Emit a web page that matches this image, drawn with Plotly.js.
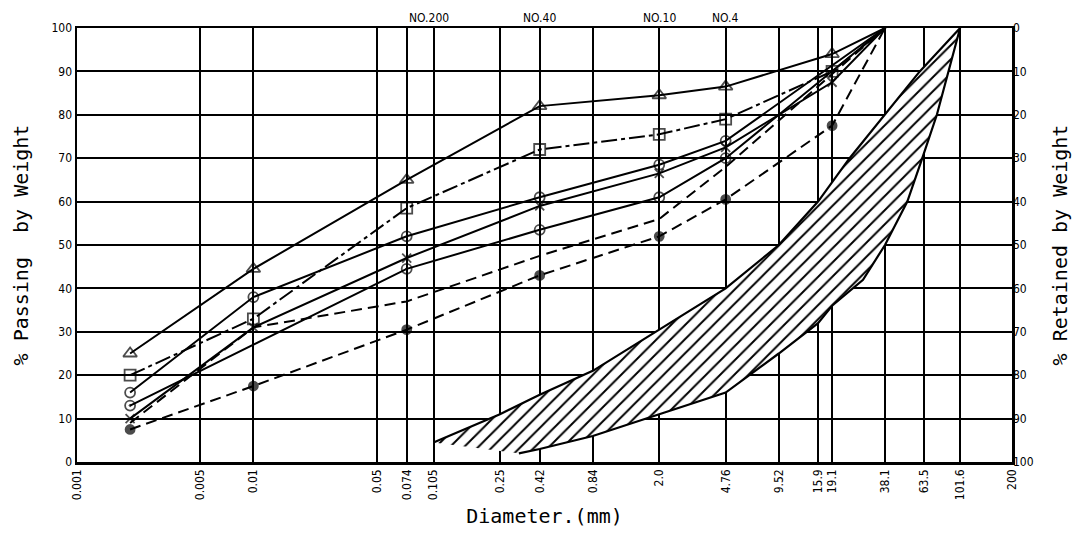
<!DOCTYPE html>
<html>
<head>
<meta charset="utf-8">
<script src="https://cdn.plot.ly/plotly-3.0.1.min.js"></script>
<style>
  html, body { margin: 0; padding: 0; background: #ffffff; }
  #chart { width: 1079px; height: 545px; }
</style>
</head>
<body>
<div id="chart"></div>
<script>
// ---- Data ----
const xTickVals  = [0.001, 0.005, 0.01, 0.05, 0.074, 0.105, 0.25, 0.42, 0.84, 2.0, 4.76, 9.52, 15.9, 19.1, 38.1, 63.5, 101.6, 200];
const xTickText  = ["0.001", "0.005", "0.01", "0.05", "0.074", "0.105", "0.25", "0.42", "0.84", "2.0", "4.76", "9.52", "15.9", "19.1", "38.1", "63.5", "101.6", "200"];
const passTicks  = [0, 10, 20, 30, 40, 50, 60, 70, 80, 90, 100];
const retainTicks = [0, 10, 20, 30, 40, 50, 60, 70, 80, 90, 100];
const sieveNames = ["NO.200", "NO.40", "NO.10", "NO.4"];
const sieveSizes = [0.074, 0.42, 2.0, 4.76];

// sample curves (diameter mm, % passing)
const triD  = [0.002, 0.01, 0.074, 0.42, 2.0, 4.76, 19.1, 38.1];
const triP  = [25, 44.5, 65, 82, 84.5, 86.5, 94, 100];
const sqD   = [0.002, 0.01, 0.074, 0.42, 2.0, 4.76, 19.1, 38.1];
const sqP   = [20, 33, 58.5, 72, 75.5, 79, 90, 100];
const circD = [0.002, 0.01, 0.074, 0.42, 2.0, 4.76, 38.1];
const circP = [16, 38, 52, 61, 68.5, 74, 100];
const crossD = [0.002, 0.01, 0.074, 0.42, 2.0, 4.76, 19.1, 38.1];
const crossP = [10, 31, 47, 59, 66.5, 72.5, 87.5, 100];
const ringD = [0.002, 0.074, 0.42, 2.0, 4.76, 38.1];
const ringP = [13, 44.5, 53.5, 61, 70, 100];
const dashD = [0.002, 0.01, 0.074, 0.42, 2.0, 4.76, 38.1];
const dashP = [9, 31, 37, 47.5, 56, 68, 100];
const dotD  = [0.002, 0.01, 0.074, 0.42, 2.0, 4.76, 19.1, 38.1];
const dotP  = [7.5, 17.5, 30.5, 43, 52, 60.5, 77.5, 100];

// hatched band (grading envelope)
const bandUpperD = [0.105, 0.25, 0.42, 0.84, 2.0, 4.76, 9.52, 15.9, 24, 38.1, 60, 101.6];
const bandUpperP = [4.5, 11, 15.5, 21, 30.5, 40, 50, 60, 70, 80, 90, 100];
const bandLowerD = [0.32, 0.42, 0.84, 2.0, 4.76, 9.52, 15.9, 19.1, 28.6, 38.1, 51, 62, 75, 87, 101.6];
const bandLowerP = [2, 3, 6, 11, 16, 25, 32, 36, 42, 50, 60, 70, 80, 90, 100];

// ---- Build traces ----
function markerSizes(arr, s) { return arr.map((v, i) => (i === arr.length - 1 ? 0 : s)); }

function curve(xs, ys, symbol, dash, size) {
  return {
    type: 'scatter', mode: 'lines+markers', x: xs, y: ys,
    line: { color: 'black', width: 2, dash: dash },
    marker: { symbol: symbol, size: markerSizes(xs, size), color: 'black',
              line: { color: 'black', width: 1.8 } },
    cliponaxis: false, showlegend: false, hoverinfo: 'x+y'
  };
}

const bandX = bandUpperD.concat(bandLowerD.slice().reverse());
const bandY = bandUpperP.concat(bandLowerP.slice().reverse());

const traces = [
  {
    type: 'scatter', mode: 'lines', x: bandX, y: bandY, fill: 'toself',
    fillcolor: 'white',
    fillpattern: { shape: '/', size: 10, solidity: 0.2, fgcolor: 'black', bgcolor: 'white' },
    line: { color: 'black', width: 2.2 }, showlegend: false, hoverinfo: 'skip'
  },
  curve(triD, triP, 'triangle-up-open', 'solid', 12),
  curve(sqD, sqP, 'square-open', '16px,4px,4px,4px', 11),
  curve(circD, circP, 'circle-open', 'solid', 10),
  curve(crossD, crossP, 'x-thin-open', 'solid', 9),
  curve(ringD, ringP, 'circle-open-dot', 'solid', 10),
  { type: 'scatter', mode: 'lines', x: dashD, y: dashP,
    line: { color: 'black', width: 2, dash: '11px,6px' }, showlegend: false },
  curve(dotD, dotP, 'circle', '11px,6px', 9),
  // carrier for the right-hand (retained) axis
  { type: 'scatter', mode: 'markers', x: [1], y: [50], yaxis: 'y2',
    marker: { size: 0, opacity: 0 }, showlegend: false, hoverinfo: 'skip' }
];

const tickFont = { family: 'DejaVu Sans Condensed, DejaVu Sans, sans-serif', size: 12, color: 'black' };
const titleFont = { family: 'DejaVu Sans Mono, Liberation Mono, monospace', size: 20, color: 'black' };

const annotations = sieveNames.map((name, i) => ({
  x: Math.log10(sieveSizes[i]), y: 1, xref: 'x', yref: 'paper',
  yanchor: 'bottom', xanchor: i === 0 ? 'left' : 'center', yshift: 1,
  text: name, showarrow: false,
  font: { family: 'DejaVu Sans Condensed, DejaVu Sans, sans-serif', size: 12, color: 'black' }
}));

const layout = {
  width: 1079, height: 545,
  margin: { l: 77, r: 67, t: 28, b: 83 },
  paper_bgcolor: 'white', plot_bgcolor: 'white',
  showlegend: false,
  xaxis: {
    type: 'log', range: [Math.log10(0.001), Math.log10(200)],
    tickmode: 'array', tickvals: xTickVals, ticktext: xTickText, tickangle: -90,
    tickfont: tickFont, ticks: '', showgrid: true, gridcolor: 'black', gridwidth: 2,
    showline: true, linecolor: 'black', linewidth: 2.5, mirror: true, zeroline: false,
    title: { text: 'Diameter.(mm)', font: { family: 'DejaVu Sans Mono, monospace', size: 20, color: 'black' }, standoff: 10 },
    automargin: false
  },
  yaxis: {
    range: [0, 100], tickmode: 'array', tickvals: passTicks, ticktext: passTicks.map(String),
    tickfont: tickFont, ticks: '', showgrid: true, gridcolor: 'black', gridwidth: 2,
    showline: true, linecolor: 'black', linewidth: 2.5, mirror: true, zeroline: false,
    layer: 'below traces',
    title: { text: '% Passing  by Weight', font: titleFont, standoff: 18 },
    automargin: false
  },
  yaxis2: {
    overlaying: 'y', side: 'right', range: [100, 0], tickmode: 'array',
    tickvals: retainTicks, ticktext: retainTicks.map(String),
    tickfont: tickFont, ticks: '', showgrid: true, gridcolor: 'black', gridwidth: 2,
    zeroline: false, showline: false,
    title: { text: '% Retained by Weight', font: titleFont, standoff: 20 },
    automargin: false
  },
  annotations: annotations
};

Plotly.newPlot('chart', traces, layout, { displayModeBar: false, staticPlot: true });
</script>
</body>
</html>
